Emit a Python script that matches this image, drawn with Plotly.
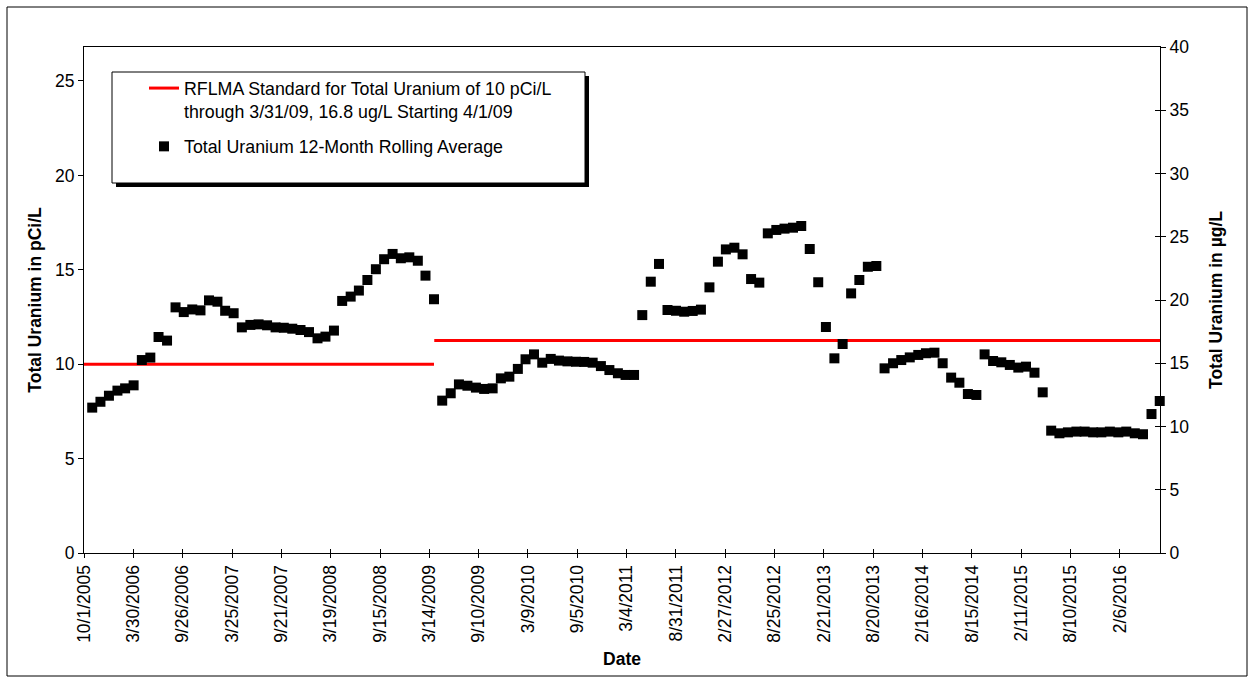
import pandas as pd
import plotly.graph_objects as go

# Canvas and plot-area geometry (pixels)
W, H = 1255, 684
ML, MR, MT, MB = 84, 95, 47, 131
PW = W - ML - MR
PH = H - MT - MB


def px_x(px):
    return (px - ML) / PW


def px_y(py):
    return (H - MB - py) / PH


# Unit conversion used for the two vertical scales
PCI_PER_UG = 0.67
UG_AXIS_MAX = 40

# Monthly 12-month rolling average of total uranium (pCi/L), month-end dates
sample_dates = pd.date_range("2005-10-31", "2016-06-30", freq=pd.offsets.MonthEnd())
uranium_pci = [
    7.70, 8.01, 8.33, 8.60, 8.72, 8.88, 10.22, 10.35, 11.44, 11.25,
    13.01, 12.76, 12.90, 12.85, 13.38, 13.31, 12.83, 12.70, 11.95, 12.08,
    12.11, 12.06, 11.95, 11.93, 11.88, 11.81, 11.70, 11.37, 11.46, 11.78,
    13.35, 13.58, 13.90, 14.46, 15.03, 15.56, 15.84, 15.61, 15.66, 15.48,
    14.69, 13.44, 8.07, 8.46, 8.93, 8.86, 8.76, 8.69, 8.72, 9.25,
    9.34, 9.75, 10.26, 10.52, 10.08, 10.28, 10.19, 10.15, 10.13, 10.12,
    10.08, 9.90, 9.69, 9.52, 9.43, 9.43, 12.60, 14.37, 15.31, 12.87,
    12.83, 12.78, 12.82, 12.89, 14.07, 15.43, 16.08, 16.17, 15.82, 14.51,
    14.32, 16.93, 17.11, 17.18, 17.23, 17.32, 16.10, 14.34, 11.97, 10.31,
    11.07, 13.75, 14.46, 15.16, 15.20, 9.78, 10.05, 10.22, 10.36, 10.49,
    10.58, 10.61, 10.05, 9.29, 9.02, 8.42, 8.37, 10.52, 10.17, 10.10,
    9.96, 9.82, 9.87, 9.55, 8.51, 6.48, 6.34, 6.39, 6.43, 6.43,
    6.39, 6.39, 6.43, 6.39, 6.43, 6.34, 6.29, 7.36, 8.05,
]

# RFLMA standard: 10 pCi/L through 3/31/09, then 16.8 ug/L
std_old_dates = ["2005-10-01", "2009-03-31"]
std_old_pci = [10, 10]
std_new_dates = ["2009-04-01", "2016-07-01"]
std_new_ug = [16.8, 16.8]

x_range = ["2005-10-01", "2016-07-01"]
tick_dates = [
    "2005-10-01", "2006-03-30", "2006-09-26", "2007-03-25", "2007-09-21",
    "2008-03-19", "2008-09-15", "2009-03-14", "2009-09-10", "2010-03-09",
    "2010-09-05", "2011-03-04", "2011-08-31", "2012-02-27", "2012-08-25",
    "2013-02-21", "2013-08-20", "2014-02-16", "2014-08-15", "2015-02-11",
    "2015-08-10", "2016-02-06",
]
tick_labels = [
    "10/1/2005", "3/30/2006", "9/26/2006", "3/25/2007", "9/21/2007",
    "3/19/2008", "9/15/2008", "3/14/2009", "9/10/2009", "3/9/2010",
    "9/5/2010", "3/4/2011", "8/31/2011", "2/27/2012", "8/25/2012",
    "2/21/2013", "8/20/2013", "2/16/2014", "8/15/2014", "2/11/2015",
    "8/10/2015", "2/6/2016",
]

FONT = "Liberation Sans, Arial, sans-serif"
RED = "#FF0000"

fig = go.Figure()

std_name = "RFLMA Standard for Total Uranium of 10 pCi/L<br>through 3/31/09, 16.8 ug/L Starting 4/1/09"
fig.add_trace(go.Scatter(
    x=std_old_dates, y=std_old_pci, mode="lines",
    line=dict(color=RED, width=3), name=std_name,
    legendgroup="std", hoverinfo="skip",
))
fig.add_trace(go.Scatter(
    x=std_new_dates, y=[v * PCI_PER_UG for v in std_new_ug], mode="lines",
    line=dict(color=RED, width=3), name=std_name, showlegend=False,
    legendgroup="std", hoverinfo="skip",
))
fig.add_trace(go.Scatter(
    x=sample_dates, y=uranium_pci, mode="markers",
    marker=dict(symbol="square", size=10, color="black"),
    name="Total Uranium 12-Month Rolling Average", legendgroup="avg",
    cliponaxis=False,
))

# carriers for the secondary scales (ug/L axis and crossing tick marks)
fig.add_trace(go.Scatter(x=[None], y=[None], yaxis="y2", showlegend=False, hoverinfo="skip"))
fig.add_trace(go.Scatter(x=[None], y=[None], yaxis="y3", showlegend=False, hoverinfo="skip"))
fig.add_trace(go.Scatter(x=[None], y=[None], xaxis="x2", showlegend=False, hoverinfo="skip"))

axis_font = dict(family=FONT, size=17.5, color="black")
title_font = dict(family=FONT, size=17.5, color="black", weight="bold")

fig.update_layout(
    width=W, height=H,
    margin=dict(l=ML, r=MR, t=MT, b=MB, pad=0),
    paper_bgcolor="white", plot_bgcolor="white",
    font=axis_font,
    showlegend=True,
    legend=dict(
        x=px_x(144), y=px_y(70), xanchor="left", yanchor="top",
        bgcolor="rgba(0,0,0,0)", borderwidth=0,
        font=dict(family=FONT, size=17.8, color="black"),
        tracegroupgap=9, valign="top",
    ),
    xaxis=dict(
        type="date", range=x_range,
        tickmode="array", tickvals=tick_dates, ticktext=tick_labels,
        tickangle=-90, ticks="outside", ticklen=4, tickcolor="black",
        showline=True, linecolor="black", linewidth=1, mirror=True,
        showgrid=False, zeroline=False, tickfont=axis_font,
        title=dict(text="Date", font=title_font, standoff=10),
    ),
    xaxis2=dict(
        type="date", range=x_range, overlaying="x", anchor="y",
        tickmode="array", tickvals=tick_dates, showticklabels=False,
        ticks="inside", ticklen=4, tickcolor="black",
        showline=False, showgrid=False, zeroline=False,
    ),
    yaxis=dict(
        range=[0, UG_AXIS_MAX * PCI_PER_UG], tickmode="array",
        tickvals=[0, 5, 10, 15, 20, 25],
        ticks="outside", ticklen=5, tickcolor="black",
        showline=True, linecolor="black", linewidth=1,
        showgrid=False, zeroline=False, tickfont=axis_font,
        title=dict(text="Total Uranium in pCi/L", font=title_font, standoff=8),
    ),
    yaxis2=dict(
        range=[0, UG_AXIS_MAX], overlaying="y", side="right", anchor="x",
        tickmode="linear", tick0=0, dtick=5,
        ticks="outside", ticklen=5, tickcolor="black",
        showline=True, linecolor="black", linewidth=1,
        showgrid=False, zeroline=False, tickfont=axis_font,
        title=dict(text="Total Uranium in µg/L", font=title_font, standoff=21),
    ),
    yaxis3=dict(
        range=[0, UG_AXIS_MAX], overlaying="y", side="right", anchor="x",
        tickmode="linear", tick0=0, dtick=5, showticklabels=False,
        ticks="inside", ticklen=5, tickcolor="black",
        showline=False, showgrid=False, zeroline=False,
    ),
    shapes=[
        # outer chart frame
        dict(type="rect", xref="paper", yref="paper",
             x0=px_x(7), x1=px_x(1247), y0=px_y(676), y1=px_y(7),
             line=dict(color="black", width=1), fillcolor="rgba(0,0,0,0)"),
        # legend drop shadow and box
        dict(type="rect", xref="paper", yref="paper",
             x0=px_x(116), x1=px_x(589), y0=px_y(187), y1=px_y(76),
             line=dict(width=0), fillcolor="black"),
        dict(type="rect", xref="paper", yref="paper",
             x0=px_x(112), x1=px_x(585), y0=px_y(183), y1=px_y(72),
             line=dict(color="black", width=1), fillcolor="white"),
    ],
)

fig.write_html("out.html")
